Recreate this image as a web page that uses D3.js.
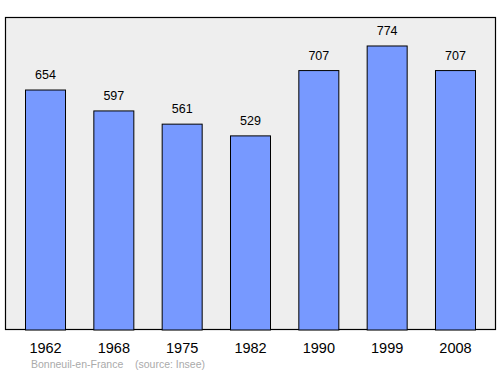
<!DOCTYPE html>
<html>
<head>
<meta charset="utf-8">
<script src="https://cdn.jsdelivr.net/npm/d3@7"></script>
<style>
  body { margin: 0; background: #fff; }
  text { font-family: "Liberation Sans", Arial, sans-serif; }
</style>
</head>
<body>
<svg id="chart" width="500" height="374"></svg>
<script>
var years = ["1962", "1968", "1975", "1982", "1990", "1999", "2008"];
var population = [654, 597, 561, 529, 707, 774, 707];
var placeName = "Bonneuil-en-France";
var sourceLabel = "(source: Insee)";

var svg = d3.select("#chart");

var panel = { left: 5.5, top: 17.5, right: 495.5, bottom: 329.5 };

// 7 bars, 40px wide, 68.3px apart, first one starting at x=25.5
var x = d3.scaleBand()
    .domain(years)
    .range([panel.left, panel.right])
    .paddingInner(0.4146)
    .paddingOuter(0.2928);

var y = d3.scaleLinear()
    .domain([0, 853])
    .range([330, 17]);

svg.append("rect")
    .attr("x", panel.left)
    .attr("y", panel.top)
    .attr("width", panel.right - panel.left)
    .attr("height", panel.bottom - panel.top)
    .attr("fill", "#eeeeee")
    .attr("stroke", "#000")
    .attr("stroke-width", 1.2);

var data = years.map(function(d, i) { return { year: d, value: population[i] }; });

svg.append("g")
    .selectAll("rect")
    .data(data)
    .enter().append("rect")
    .attr("x", function(d) { return x(d.year); })
    .attr("y", function(d) { return y(d.value); })
    .attr("width", x.bandwidth())
    .attr("height", function(d) { return y(0) - y(d.value); })
    .attr("fill", "#7799ff")
    .attr("stroke", "#000")
    .attr("stroke-width", 1);

svg.append("g")
    .selectAll("text")
    .data(data)
    .enter().append("text")
    .attr("x", function(d) { return x(d.year) + x.bandwidth() / 2; })
    .attr("y", function(d) { return y(d.value) - 11; })
    .attr("text-anchor", "middle")
    .attr("font-size", 12.5)
    .attr("fill", "#000")
    .text(function(d) { return d.value; });

// year labels under the panel
var axis = d3.axisBottom(x).tickSize(0).tickPadding(0);
var axisG = svg.append("g")
    .attr("transform", "translate(0,353)")
    .call(axis);
axisG.select(".domain").remove();
axisG.selectAll("text")
    .attr("dy", 0)
    .attr("y", 0)
    .attr("font-size", 14.5)
    .attr("font-family", "Liberation Sans, Arial, sans-serif")
    .attr("fill", "#000");

svg.append("text")
    .attr("x", 31)
    .attr("y", 368)
    .attr("font-size", 10.5)
    .attr("fill", "#aaaaaa")
    .text(placeName);

svg.append("text")
    .attr("x", 135)
    .attr("y", 368)
    .attr("font-size", 10.5)
    .attr("fill", "#aaaaaa")
    .text(sourceLabel);
</script>
</body>
</html>
